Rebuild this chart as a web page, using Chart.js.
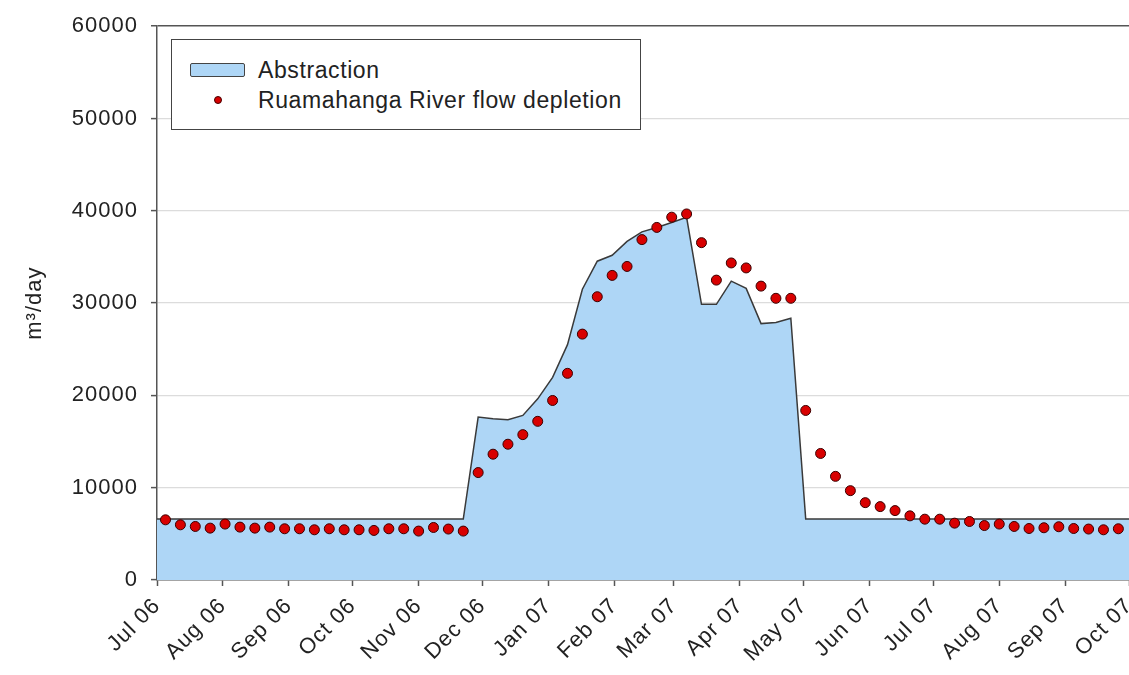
<!DOCTYPE html>
<html>
<head>
<meta charset="utf-8">
<script src="https://cdn.jsdelivr.net/npm/chart.js@4"></script>
<style>
  html, body { margin: 0; padding: 0; background: #ffffff; overflow: hidden; }
  #wrap { position: absolute; left: 0; top: 0; width: 1135px; height: 675px; }
  #legend {
    position: absolute; left: 171px; top: 39px; width: 470px; height: 91px;
    border: 1.5px solid #444; background: #ffffff; box-sizing: border-box;
    font-family: "Liberation Sans", Arial, sans-serif; font-size: 23px; letter-spacing: 0.6px; color: #222;
  }
  .row { position: absolute; left: 86px; line-height: 26px; white-space: nowrap; }
  #patch { position: absolute; left: 18px; top: 23px; width: 55px; height: 14px;
    background: #aed6f6; border: 1.5px solid #444; box-sizing: border-box; border-radius: 2px; }
  #dot { position: absolute; left: 42px; top: 56px; width: 8px; height: 8px; border-radius: 50%;
    background: #d80000; border: 1px solid #400; box-sizing: border-box; }
</style>
</head>
<body>
<div id="wrap"><canvas id="c"></canvas></div>
<div id="legend">
  <div id="patch"></div>
  <div class="row" style="top:17px">Abstraction</div>
  <div id="dot"></div>
  <div class="row" style="top:47px">Ruamahanga River flow depletion</div>
</div>
<script>
// Days since 1 Jul 2006 for the monthly axis ticks
const monthDays = [0, 31, 62, 92, 123, 153, 184, 215, 243, 274, 304, 335, 365, 396, 427, 457];
const monthLabels = ["Jul 06","Aug 06","Sep 06","Oct 06","Nov 06","Dec 06","Jan 07","Feb 07","Mar 07",
                     "Apr 07","May 07","Jun 07","Jul 07","Aug 07","Sep 07","Oct 07"];

// Weekly sample days (days since 1 Jul 2006)
const weekDays = [4, 11, 18, 25, 32, 39, 46, 53, 60, 67, 74, 81, 88, 95, 102, 109, 116, 123, 130, 137,
                  144, 151, 158, 165, 172, 179, 186, 193, 200, 207, 214, 221, 228, 235, 242, 249, 256,
                  263, 270, 277, 284, 291, 298, 305, 312, 319, 326, 333, 340, 347, 354, 361, 368, 375,
                  382, 389, 396, 403, 410, 417, 424, 431, 438, 445, 452];

// Ruamahanga River flow depletion (m3/day)
const depletion = [6520, 5980, 5800, 5620, 6060, 5730, 5620, 5730, 5550, 5550, 5440, 5550, 5440, 5440,
                   5370, 5550, 5550, 5300, 5690, 5520, 5300, 11640, 13630, 14710, 15750, 17190, 19450,
                   22390, 26640, 30690, 33000, 33970, 36880, 38200, 39310, 39660, 36550, 32490, 34350,
                   33810, 31840, 30520, 30520, 18370, 13710, 11230, 9680, 8380, 7950, 7520, 6950, 6590,
                   6590, 6160, 6340, 5900, 6060, 5800, 5580, 5660, 5770, 5580, 5520, 5440, 5550];

// Abstraction (m3/day): value at start of axis, at each weekly day, and at end of axis
const abstractionStart = 6600;
const abstraction = [6600, 6600, 6600, 6600, 6600, 6600, 6600, 6600, 6600, 6600, 6600, 6600, 6600, 6600,
                     6600, 6600, 6600, 6600, 6600, 6600, 6600, 17650, 17480, 17370, 17830, 19630, 21960,
                     25500, 31500, 34540, 35180, 36690, 37720, 38200, 38740, 39300, 29870, 29870, 32380,
                     31590, 27780, 27890, 28360, 6600, 6600, 6600, 6600, 6600, 6600, 6600, 6600, 6600,
                     6600, 6600, 6600, 6600, 6600, 6600, 6600, 6600, 6600, 6600, 6600, 6600, 6600];
const abstractionEnd = 6600;

const yTicks = [0, 10000, 20000, 30000, 40000, 50000, 60000];

const FONT = { family: '"Liberation Sans", Arial, sans-serif', size: 22 };

const absPoints = [{ x: monthDays[0], y: abstractionStart }]
  .concat(weekDays.map((d, i) => ({ x: d, y: abstraction[i] })))
  .concat([{ x: monthDays[monthDays.length - 1], y: abstractionEnd }]);
const depPoints = weekDays.map((d, i) => ({ x: d, y: depletion[i] }));

const spacingPlugin = {
  id: 'spacing',
  beforeUpdate: (chart) => { chart.ctx.letterSpacing = '1px'; },
  beforeLayout: (chart) => { chart.ctx.letterSpacing = '1px'; },
  beforeDraw: (chart) => { chart.ctx.letterSpacing = '1px'; }
};

new Chart(document.getElementById('c'), {
  type: 'line',
  plugins: [spacingPlugin],
  data: {
    datasets: [
      {
        label: 'Ruamahanga River flow depletion',
        data: depPoints,
        showLine: false,
        pointRadius: 5,
        pointBackgroundColor: '#d80000',
        pointBorderColor: '#3a0000',
        pointBorderWidth: 1,
        order: 0
      },
      {
        label: 'Abstraction',
        data: absPoints,
        fill: 'origin',
        backgroundColor: '#aed6f6',
        borderColor: '#3a3a3a',
        borderWidth: 1.5,
        pointRadius: 0,
        tension: 0,
        order: 1
      }
    ]
  },
  options: {
    responsive: true,
    maintainAspectRatio: false,
    animation: false,
    layout: { padding: { top: 23, right: 4, bottom: 0, left: 0 } },
    plugins: { legend: { display: false }, tooltip: { enabled: false } },
    scales: {
      x: {
        type: 'linear',
        min: monthDays[0],
        max: monthDays[monthDays.length - 1],
        afterBuildTicks: (s) => { s.ticks = monthDays.map(v => ({ value: v })); },
        afterFit: (s) => { s.height = 95; s.paddingLeft = 0; s.paddingRight = 0; },
        ticks: {
          autoSkip: false, maxRotation: 45, minRotation: 45, padding: 7,
          color: '#222', font: FONT,
          callback: (v, i) => monthLabels[i]
        },
        grid: { drawOnChartArea: false, drawTicks: true, tickLength: 6, tickColor: '#555', tickWidth: 1.5 },
        border: { display: true, color: '#555', width: 1.5 }
      },
      y: {
        min: 0, max: 60000,
        afterBuildTicks: (s) => { s.ticks = yTicks.map(v => ({ value: v })); },
        afterFit: (s) => { s.width = 157; },
        ticks: { padding: 13, color: '#222', font: FONT, callback: (v) => String(v) },
        grid: {
          color: (c) => (c.tick && c.tick.value === 60000) ? '#555' : '#dcdcdc',
          lineWidth: (c) => (c.tick && c.tick.value === 60000) ? 1.5 : 1.2,
          tickLength: 6, tickColor: '#555', tickWidth: 1.5
        },
        border: { display: true, color: '#555', width: 1.5 },
        title: { display: true, text: 'm³/day', color: '#222', font: FONT, padding: { top: 22, bottom: 0 } }
      }
    }
  }
});
</script>
</body>
</html>
